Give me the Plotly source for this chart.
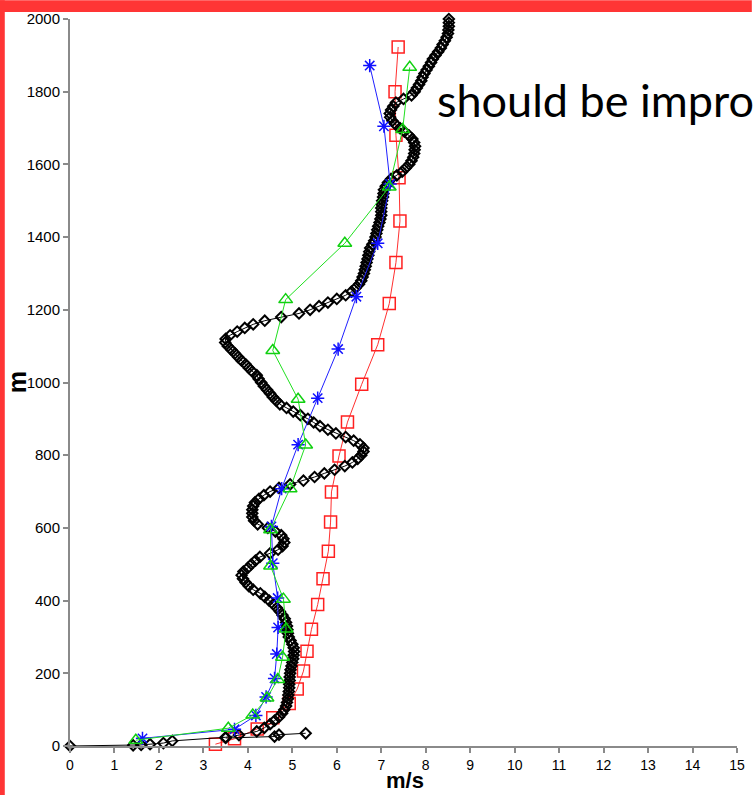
import plotly.graph_objects as go

# ---------------- data ----------------
# black profile (dense, ~10 m gates): heights (m) and speeds (m/s)
black_h = [0, 2, 3, 5, 8, 14, 24, 30, 40, 50, 60, 70, 80, 90, 100, 110, 120, 130, 140, 150,
           160, 170, 180, 190, 200, 210, 220, 230, 240, 250, 260, 270, 280, 290, 300, 310, 320, 330, 340, 350,
           360, 370, 380, 390, 400, 410, 420, 430, 440, 450, 460, 470, 480, 490, 500, 510, 520, 530, 540, 550,
           560, 570, 580, 590, 600, 610, 620, 630, 640, 650, 660, 670, 680, 690, 700, 710, 720, 730, 740, 750,
           760, 770, 780, 790, 800, 810, 820, 830, 840, 850, 860, 870, 880, 890, 900, 910, 920, 930, 940, 950,
           960, 970, 980, 990, 1000, 1010, 1020, 1030, 1040, 1050, 1060, 1070, 1080, 1090, 1100, 1110, 1120, 1130, 1140, 1150,
           1160, 1170, 1180, 1190, 1200, 1210, 1220, 1230, 1240, 1250, 1260, 1270, 1280, 1290, 1300, 1310, 1320, 1330, 1340, 1350,
           1360, 1370, 1380, 1390, 1400, 1410, 1420, 1430, 1440, 1450, 1460, 1470, 1480, 1490, 1500, 1510, 1520, 1530, 1540, 1550,
           1560, 1570, 1580, 1590, 1600, 1610, 1620, 1630, 1640, 1650, 1660, 1670, 1680, 1690, 1700, 1710, 1720, 1730, 1740, 1750,
           1760, 1770, 1780, 1790, 1800, 1810, 1820, 1830, 1840, 1850, 1860, 1870, 1880, 1890, 1900, 1910, 1920, 1930, 1940, 1950,
           1960, 1970, 1980, 1990, 2000]
black_v = [0.0, 1.42, 1.6, 1.8, 2.1, 2.3, 3.5, 3.8, 4.2, 4.37, 4.5, 4.6, 4.7, 4.77, 4.82, 4.86, 4.88, 4.9, 4.91, 4.92,
           4.93, 4.93, 4.94, 4.94, 4.95, 4.96, 4.98, 5.0, 5.02, 5.03, 5.04, 5.03, 5.0, 4.96, 4.92, 4.9, 4.89, 4.88, 4.86, 4.83,
           4.78, 4.72, 4.65, 4.57, 4.48, 4.38, 4.28, 4.12, 4.02, 3.95, 3.89, 3.86, 3.9, 4.0, 4.08, 4.17, 4.27, 4.5, 4.68, 4.78,
           4.82, 4.8, 4.75, 4.62, 4.45, 4.22, 4.14, 4.1, 4.1, 4.1, 4.12, 4.16, 4.25, 4.36, 4.5, 4.7, 4.95, 5.25, 5.5, 5.72,
           5.95, 6.18, 6.35, 6.47, 6.55, 6.6, 6.6, 6.52, 6.38, 6.2, 5.98, 5.8, 5.62, 5.48, 5.35, 5.18, 5.02, 4.87, 4.72, 4.64,
           4.56, 4.5, 4.43, 4.36, 4.3, 4.24, 4.2, 4.1, 4.02, 3.95, 3.86, 3.78, 3.71, 3.63, 3.55, 3.49, 3.5, 3.6, 3.76, 3.93,
           4.12, 4.38, 4.75, 5.15, 5.4, 5.6, 5.8, 6.0, 6.2, 6.33, 6.42, 6.5, 6.55, 6.58, 6.61, 6.63, 6.65, 6.67, 6.69, 6.71,
           6.73, 6.75, 6.8, 6.84, 6.87, 6.89, 6.91, 6.93, 6.96, 6.98, 7.0, 7.0, 7.0, 7.01, 7.02, 7.04, 7.05, 7.06, 7.1, 7.15,
           7.22, 7.35, 7.47, 7.55, 7.63, 7.68, 7.72, 7.74, 7.75, 7.76, 7.74, 7.7, 7.62, 7.52, 7.42, 7.32, 7.25, 7.2, 7.19, 7.22,
           7.27, 7.33, 7.5, 7.68, 7.75, 7.8, 7.85, 7.9, 7.93, 7.97, 8.02, 8.07, 8.12, 8.16, 8.22, 8.28, 8.34, 8.38, 8.43, 8.47,
           8.5, 8.51, 8.52, 8.52, 8.52]

# short near-surface black segment
tower_h = [22, 26, 31, 35]
tower_v = [3.5, 4.6, 4.7, 5.3]

red_h = [5, 20, 47, 78, 117, 157, 206, 261, 321, 389, 460, 536, 616, 699, 798, 891, 995, 1104, 1217, 1330,
         1444, 1563, 1680, 1800, 1923]
red_v = [3.27, 3.7, 4.21, 4.56, 4.93, 5.11, 5.25, 5.33, 5.43, 5.57, 5.69, 5.81, 5.86, 5.88, 6.05, 6.24, 6.56, 6.92, 7.18, 7.33,
         7.42, 7.4, 7.33, 7.31, 7.38]

blue_h = [21, 46, 84, 135, 186, 253, 326, 407, 503, 604, 708, 829, 957, 1092, 1236, 1383, 1546, 1705, 1872]
blue_v = [1.63, 3.7, 4.18, 4.41, 4.6, 4.65, 4.68, 4.67, 4.56, 4.53, 4.76, 5.13, 5.57, 6.03, 6.44, 6.92, 7.2, 7.06, 6.74]

green_h = [16, 49, 85, 132, 183, 244, 322, 404, 495, 595, 708, 828, 954, 1088, 1228, 1383, 1538, 1696, 1867]
green_v = [1.48, 3.56, 4.11, 4.43, 4.67, 4.78, 4.86, 4.8, 4.51, 4.51, 4.95, 5.3, 5.13, 4.56, 4.85, 6.18, 7.18, 7.48, 7.64]

x_ticks = list(range(0, 16))
y_ticks = list(range(0, 2001, 200))

# ---------------- figure ----------------
W, H = 755, 795
ML, MR, MT, MB = 70, 10, 14, 49
PW, PH = W - ML - MR, H - MT - MB

def px(x):
    return (x - ML) / PW

def py(y):
    return (H - MB - y) / PH

fig = go.Figure()

fig.add_trace(go.Scatter(x=red_v, y=red_h, mode="lines+markers",
                         line=dict(color="#FF3030", width=1),
                         marker=dict(symbol="square-open", size=12, color="#FF2020", line=dict(width=1.5)),
                         cliponaxis=False, showlegend=False))
fig.add_trace(go.Scatter(x=tower_v, y=tower_h, mode="lines+markers",
                         line=dict(color="black", width=1),
                         marker=dict(symbol="diamond-open", size=8, color="black", line=dict(width=2)),
                         cliponaxis=False, showlegend=False))
fig.add_trace(go.Scatter(x=black_v, y=black_h, mode="lines+markers",
                         line=dict(color="black", width=1),
                         marker=dict(symbol="diamond-open", size=8, color="black", line=dict(width=2)),
                         cliponaxis=False, showlegend=False))
fig.add_trace(go.Scatter(x=blue_v, y=blue_h, mode="lines+markers",
                         line=dict(color="#2020FF", width=1),
                         marker=dict(symbol="asterisk-open", size=11, color="#1010FF", line=dict(width=1.5, color="#1010FF")),
                         cliponaxis=False, showlegend=False))
fig.add_trace(go.Scatter(x=green_v, y=green_h, mode="lines+markers",
                         line=dict(color="#20E020", width=1),
                         marker=dict(symbol="triangle-up-open", size=12, color="#10D010", line=dict(width=1.5)),
                         cliponaxis=False, showlegend=False))

axis_common = dict(showgrid=False, zeroline=False, showline=True, linecolor="#8a8a8a", linewidth=2,
                   ticks="outside", ticklen=5, tickwidth=1.5, tickcolor="#8a8a8a")

fig.update_layout(
    width=W, height=H, autosize=False,
    margin=dict(l=ML, r=MR, t=MT, b=MB, pad=0),
    paper_bgcolor="white", plot_bgcolor="white",
    xaxis=dict(range=[0, 15], tickvals=x_ticks, ticklabelstandoff=0,
               tickfont=dict(family="Liberation Sans, Arial", size=14, color="black"), **axis_common),
    yaxis=dict(range=[0, 2000], tickvals=y_ticks,
               tickfont=dict(family="Liberation Sans, Arial", size=15, color="black"), **axis_common),
    shapes=[
        dict(type="rect", xref="paper", yref="paper", x0=px(-5), x1=px(4), y0=py(H + 5), y1=py(-5),
             fillcolor="#FF3535", line=dict(width=0), layer="above"),
        dict(type="rect", xref="paper", yref="paper", x0=px(-5), x1=px(W + 5), y0=py(7), y1=py(-5),
             fillcolor="#FF3535", line=dict(width=0), layer="above"),
    ],
    annotations=[
        dict(text="<b>m/s</b>", xref="paper", yref="paper", x=px(409), y=py(781),
             showarrow=False, xanchor="center", yanchor="middle", borderpad=0,
             font=dict(family="Liberation Sans, Arial", size=22, color="black")),
        dict(text="<b>m</b>", xref="paper", yref="paper", x=px(16), y=py(380), textangle=-90,
             showarrow=False, xanchor="center", yanchor="middle",
             font=dict(family="Liberation Sans, Arial", size=25, color="black")),
        dict(text="should be impro", xref="paper", yref="paper", x=px(439), y=py(96),
             showarrow=False, xanchor="left", yanchor="middle",
             font=dict(family="Lato", size=45, color="black")),
    ],
)

fig.write_html("out.html")
